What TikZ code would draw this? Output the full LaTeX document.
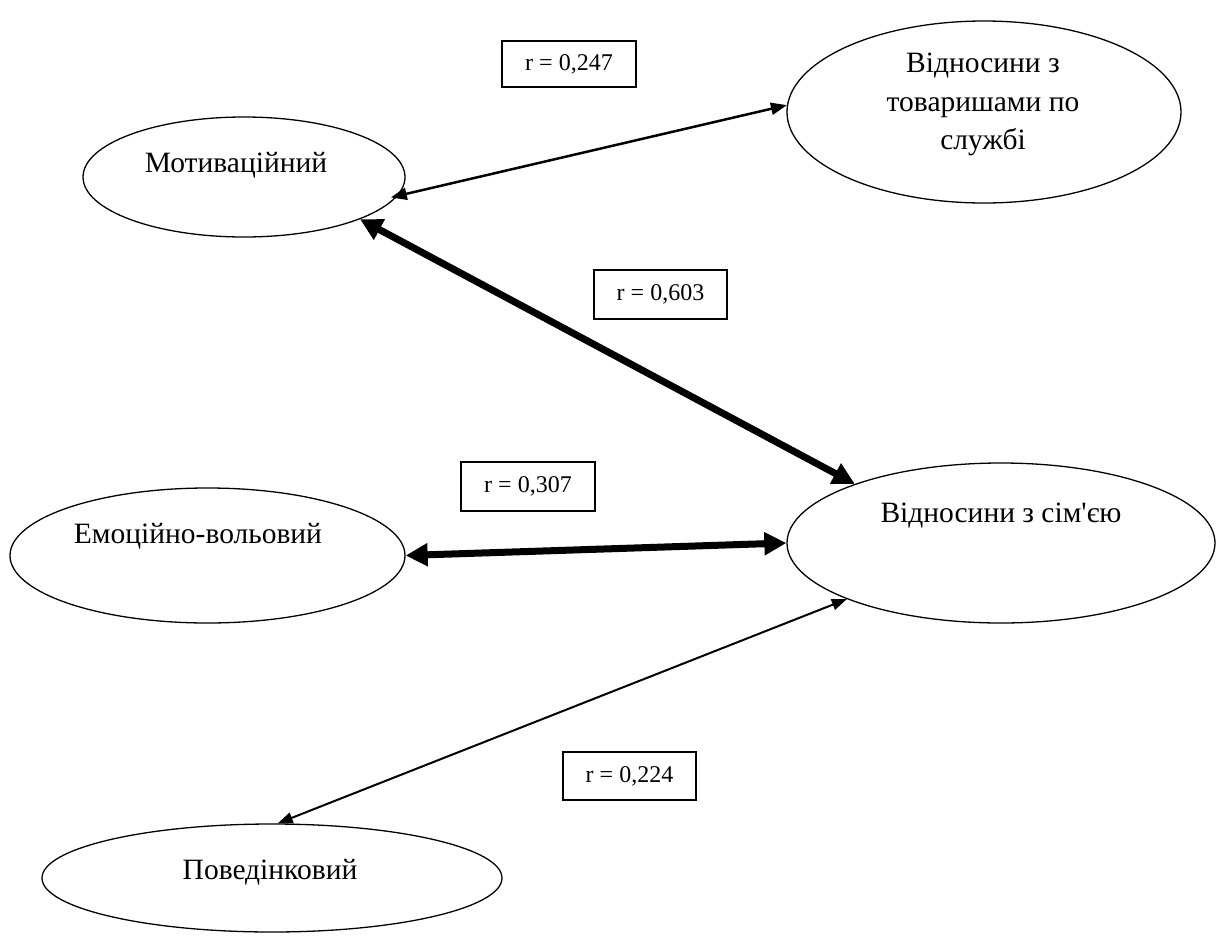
\documentclass[tikz,border=0pt]{standalone}
\usepackage{fontspec}
\setmainfont{Liberation Serif}[Ligatures=TeXOff]
\usetikzlibrary{shapes.geometric,arrows.meta}
\begin{document}
\begin{tikzpicture}[x=1pt,y=-1pt,
  ell/.style={ellipse,draw,line width=1.3pt,inner sep=0pt},
  lbl/.style={font=\fontsize{29.5}{38}\selectfont,anchor=base,inner sep=0pt},
  rbox/.style={draw,line width=1.3pt,rectangle,inner sep=0pt,font=\fontsize{24}{28}\selectfont},
  weakarrow/.style={line width=2.5pt,{Triangle[length=16pt,width=12pt]}-{Triangle[length=16pt,width=12pt]}},
  weakarrowb/.style={line width=2pt,{Triangle[length=15pt,width=11pt]}-{Triangle[length=15pt,width=11pt]}},
  strongarrow/.style={line width=7pt,{Triangle[length=22pt,width=22pt]}-{Triangle[length=22pt,width=22pt]}}
]
\useasboundingbox[fill=white] (0,0) rectangle (1216,940);

% ellipses
\node[ell,minimum width=322pt,minimum height=120pt] (mot) at (244,177) {};
\node[lbl] (motT) at (236,172) {Мотиваційний};

\node[ell,minimum width=394pt,minimum height=182pt] (tov) at (984,112) {};
\node[lbl] (tovA) at (983,72) {Відносини з};
\node[lbl] (tovB) at (983,111) {товаришами по};
\node[lbl] (tovC) at (983,149) {службі};

\node[ell,minimum width=395pt,minimum height=135pt] (emo) at (207.5,555.5) {};
\node[lbl] (emoT) at (198,543) {Емоційно-вольовий};

\node[ell,minimum width=428pt,minimum height=160pt] (sim) at (1001,543) {};
\node[lbl] (simT) at (1001,522) {Відносини з сім'єю};

\node[ell,minimum width=460pt,minimum height=108pt] (pov) at (272,878) {};
\node[lbl] (povT) at (270,879) {Поведінковий};

% correlation boxes
\node[rbox,minimum width=134pt,minimum height=46pt] (r1) at (569,64) {r = 0,247};
\node[rbox,minimum width=133pt,minimum height=49pt] (r2) at (660.5,294.5) {r = 0,603};
\node[rbox,minimum width=134pt,minimum height=49pt] (r3) at (528,486.5) {r = 0,307};
\node[rbox,minimum width=133pt,minimum height=48pt] (r4) at (629.5,776) {r = 0,224};

% connectors
\draw[weakarrow,shorten <=-7pt] (mot.-7) -- (tov.178);
\draw[strongarrow] (mot.-20.5) -- (sim.158.8);
\draw[strongarrow] (emo.0) -- (sim.180);
\draw[weakarrowb] (pov.84.7) -- (sim.-160);
\end{tikzpicture}
\end{document}
